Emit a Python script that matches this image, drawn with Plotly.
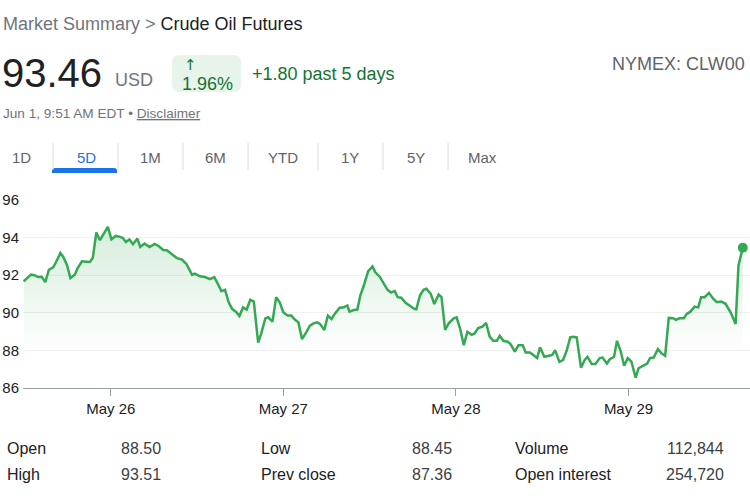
import pandas as pd
import plotly.graph_objects as go

# ---------------- data ----------------
hours_from_may26 = [
    -12.1, -11.1, -10.6, -10.1, -9.6, -9.1, -8.6, -8.0, -7.6, -7.0,
    -6.6, -6.1, -5.6, -5.0, -4.6, -4.0, -3.4, -2.9, -2.5, -2.0,
    -1.5, -1.0, -0.4, 0.1, 0.7, 1.3, 1.7, 2.1, 2.6, 3.1,
    3.7, 4.1, 4.7, 5.4, 6.1, 6.7, 7.3, 7.8, 8.5, 9.2,
    9.9, 10.5, 11.3, 11.7, 12.4, 13.1, 13.8, 14.4, 14.9, 15.4,
    15.9, 16.4, 16.9, 17.4, 17.9, 18.4, 18.9, 19.4, 19.9, 20.5,
    20.9, 21.5, 21.9, 22.5, 23.0, 23.5, 24.0, 24.6, 25.1, 25.6,
    26.1, 26.6, 27.1, 27.7, 28.2, 28.7, 29.1, 29.7, 30.2, 30.7,
    31.2, 31.8, 32.4, 32.9, 33.2, 33.8, 34.3, 34.7, 35.2, 35.8,
    36.4, 36.8, 37.4, 38.0, 38.5, 39.0, 39.5, 39.9, 40.4, 41.0,
    41.6, 42.2, 42.5, 43.0, 43.5, 43.9, 44.5, 45.0, 45.6, 46.0,
    46.5, 47.0, 47.7, 48.1, 48.6, 49.1, 49.6, 50.2, 50.6, 51.1,
    51.7, 52.2, 52.7, 53.2, 53.7, 54.1, 54.6, 55.2, 55.6, 56.2,
    56.7, 57.3, 57.7, 58.3, 58.9, 59.3, 59.7, 60.3, 60.8, 61.4,
    61.8, 62.4, 62.9, 63.4, 63.9, 64.3, 64.8, 65.4, 65.9, 66.3,
    66.9, 67.4, 68.0, 68.4, 69.0, 69.4, 70.0, 70.4, 70.9, 71.4,
    71.9, 72.4, 73.0, 73.4, 74.0, 74.6, 75.0, 75.5, 76.1, 76.6,
    77.1, 77.6, 78.2, 78.6, 79.1, 79.7, 80.1, 80.6, 81.2, 81.7,
    82.1, 82.6, 83.2, 83.8, 84.3, 84.9, 85.5, 86.2, 86.9, 87.3,
    87.9,
]
prices = [
    91.67, 92.03, 92.00, 91.90, 91.92, 91.63, 92.29, 92.42, 92.70, 93.18,
    92.97, 92.56, 91.85, 92.03, 92.38, 92.74, 92.72, 92.70, 92.91, 94.27,
    93.86, 94.22, 94.57, 93.91, 94.09, 94.04, 93.98, 93.77, 93.90, 93.65,
    93.95, 93.50, 93.68, 93.50, 93.66, 93.54, 93.34, 93.33, 93.10, 92.91,
    92.83, 92.61, 92.03, 92.08, 91.94, 91.90, 91.79, 91.90, 91.54, 91.15,
    91.22, 90.56, 90.20, 90.06, 89.83, 90.29, 90.17, 90.69, 90.60, 88.42,
    88.87, 89.70, 89.76, 89.53, 90.83, 90.56, 90.03, 89.85, 89.85, 89.64,
    89.49, 88.60, 88.90, 89.32, 89.44, 89.49, 89.41, 89.09, 89.85, 89.67,
    89.97, 90.26, 90.29, 90.39, 90.06, 90.15, 90.17, 90.92, 91.45, 92.22,
    92.47, 92.15, 91.92, 91.51, 91.22, 91.08, 91.15, 90.83, 90.80, 90.53,
    90.39, 90.21, 90.19, 90.92, 91.22, 91.28, 91.01, 90.47, 90.97, 90.83,
    89.09, 89.44, 89.71, 89.76, 89.14, 88.28, 88.99, 88.83, 88.90, 89.19,
    89.26, 89.46, 88.73, 88.51, 88.51, 88.78, 88.51, 88.46, 88.34, 87.94,
    88.28, 88.28, 87.89, 87.89, 87.71, 87.59, 88.16, 87.66, 87.70, 87.76,
    88.01, 87.39, 87.48, 87.98, 88.69, 88.72, 88.69, 87.08, 87.48, 87.66,
    87.27, 87.27, 87.59, 87.62, 87.30, 87.53, 87.66, 88.51, 87.98, 87.18,
    87.59, 87.41, 86.55, 87.05, 87.18, 87.30, 87.59, 87.62, 88.07, 87.84,
    87.71, 89.73, 89.71, 89.62, 89.71, 89.71, 89.94, 90.06, 90.33, 90.29,
    90.83, 90.83, 91.06, 90.74, 90.56, 90.60, 90.48, 90.03, 89.41, 92.52,
    93.46,
]
tick_dates = ["2022-05-26", "2022-05-27", "2022-05-28", "2022-05-29"]
tick_labels = ["May 26", "May 27", "May 28", "May 29"]
y_ticks = [86, 88, 90, 92, 94, 96]
tabs = ["1D", "5D", "1M", "6M", "YTD", "1Y", "5Y", "Max"]
active_tab = "5D"
stat_labels = [["Open", "High"], ["Low", "Prev close"], ["Volume", "Open interest"]]
stat_values = [["88.50", "93.51"], ["88.45", "87.36"], ["112,844", "254,720"]]

base = pd.Timestamp("2022-05-26")
times = [base + pd.Timedelta(hours=h) for h in hours_from_may26]

# ---------------- layout helpers ----------------
W, H = 750, 499
FONT = "Liberation Sans, Arial, Helvetica, sans-serif"
GREEN = "#34a853"
DKGREEN = "#137333"
GRAY = "#70757a"
DARK = "#202124"


def px(x):
    return x / W


def py(y):
    return 1 - y / H


fig = go.Figure()
fig.add_trace(go.Scatter(
    x=times, y=prices, mode="lines",
    line=dict(color=GREEN, width=2.5, shape="linear"),
    fill="tozeroy",
    fillgradient=dict(type="vertical", start=87.8, stop=94.6,
                      colorscale=[[0, "rgba(52,168,83,0)"], [1, "rgba(52,168,83,0.2)"]]),
    hoverinfo="skip", showlegend=False,
))
fig.add_trace(go.Scatter(
    x=[times[-1]], y=[prices[-1]], mode="markers",
    marker=dict(color=GREEN, size=10), hoverinfo="skip", showlegend=False,
))

x0 = base + pd.Timedelta(hours=-12.2)
x1 = base + pd.Timedelta(hours=88.9)

annotations = []


def txt(x, y, text, size, color, anchor="left", yanchor="middle", family=FONT):
    annotations.append(dict(
        x=px(x), y=py(y), xref="paper", yref="paper", text=text, showarrow=False,
        xanchor=anchor, yanchor=yanchor,
        font=dict(family=family, size=size, color=color), borderpad=0,
    ))


# header
txt(2, 24, f"<span style='color:{GRAY}'>Market Summary &gt;</span> Crude Oil Futures", 18, DARK)
txt(1, 73, "93.46", 40, DARK)
txt(114, 80, "USD", 18, GRAY)
txt(190, 65, "↑", 15, DKGREEN, anchor="center", family="DejaVu Sans")
txt(207, 84, "1.96%", 18, DKGREEN, anchor="center")
txt(251, 74, "+1.80 past 5 days", 18, DKGREEN)
txt(746, 64, "NYMEX: CLW00", 18, "#5f6368", anchor="right")
txt(2, 113, "Jun 1, 9:51 AM EDT • <u>Disclaimer</u>", 13.6, GRAY)

# tabs
tab_centers = [21, 86, 150.5, 215.5, 282.5, 350, 415.5, 482]
for name, cx in zip(tabs, tab_centers):
    txt(cx, 157, name, 15, "#1a73e8" if name == active_tab else "#5f6368", anchor="center")

# stats
col_label_x = [6, 260, 514]
col_value_x = [162, 453, 725]
row_y = [448, 474]
for c in range(3):
    for r in range(2):
        txt(col_label_x[c], row_y[r], stat_labels[c][r], 16, DARK)
        txt(col_value_x[c], row_y[r], stat_values[c][r], 16, "#3c4043", anchor="right")

shapes = []


def rounded_rect(xa, ya, xb, yb, r, color, top_only=False):
    rx, ry = r / W, r / H
    X0, X1 = px(xa), px(xb)
    Y0, Y1 = py(ya), py(yb)  # Y0 top, Y1 bottom
    if top_only:
        path = (f"M {X0},{Y1} L {X0},{Y0 - ry} Q {X0},{Y0} {X0 + rx},{Y0} "
                f"L {X1 - rx},{Y0} Q {X1},{Y0} {X1},{Y0 - ry} L {X1},{Y1} Z")
    else:
        path = (f"M {X0 + rx},{Y0} L {X1 - rx},{Y0} Q {X1},{Y0} {X1},{Y0 - ry} "
                f"L {X1},{Y1 + ry} Q {X1},{Y1} {X1 - rx},{Y1} L {X0 + rx},{Y1} "
                f"Q {X0},{Y1} {X0},{Y1 + ry} L {X0},{Y0 - ry} Q {X0},{Y0} {X0 + rx},{Y0} Z")
    shapes.append(dict(type="path", path=path, xref="paper", yref="paper",
                       fillcolor=color, line=dict(width=0), layer="below"))


rounded_rect(172, 55, 241, 92, 8, "#e6f4ea")
rounded_rect(52, 168, 117, 173, 3, "#1a73e8", top_only=True)
for sx in [53, 118, 183, 248, 318, 383, 448]:
    shapes.append(dict(type="line", xref="paper", yref="paper",
                       x0=px(sx), x1=px(sx), y0=py(143), y1=py(170),
                       line=dict(color="#dadce0", width=1)))

fig.update_layout(
    template="none",
    width=W, height=H, autosize=False,
    margin=dict(l=0, r=0, t=0, b=0),
    paper_bgcolor="white", plot_bgcolor="white",
    showlegend=False,
    annotations=annotations, shapes=shapes,
    xaxis=dict(
        domain=[px(23), 1.0], type="date", range=[x0, x1],
        tickvals=tick_dates, ticktext=tick_labels,
        showgrid=False, zeroline=False, showline=True, linecolor="#9aa0a6", linewidth=1,
        ticks="outside", ticklen=7, tickcolor="#9aa0a6", tickwidth=1,
        tickfont=dict(family=FONT, size=15, color=DARK), automargin=False,
        fixedrange=True,
    ),
    yaxis=dict(
        domain=[py(388), py(200)], range=[86, 96], tickvals=y_ticks,
        showgrid=True, gridcolor="#f0f0f0", gridwidth=1, zeroline=False, showline=False,
        ticks="", tickfont=dict(family=FONT, size=15, color=DARK), automargin=False,
        ticklabelstandoff=3, fixedrange=True,
    ),
)

fig.write_html("out.html", config={"displayModeBar": False})
